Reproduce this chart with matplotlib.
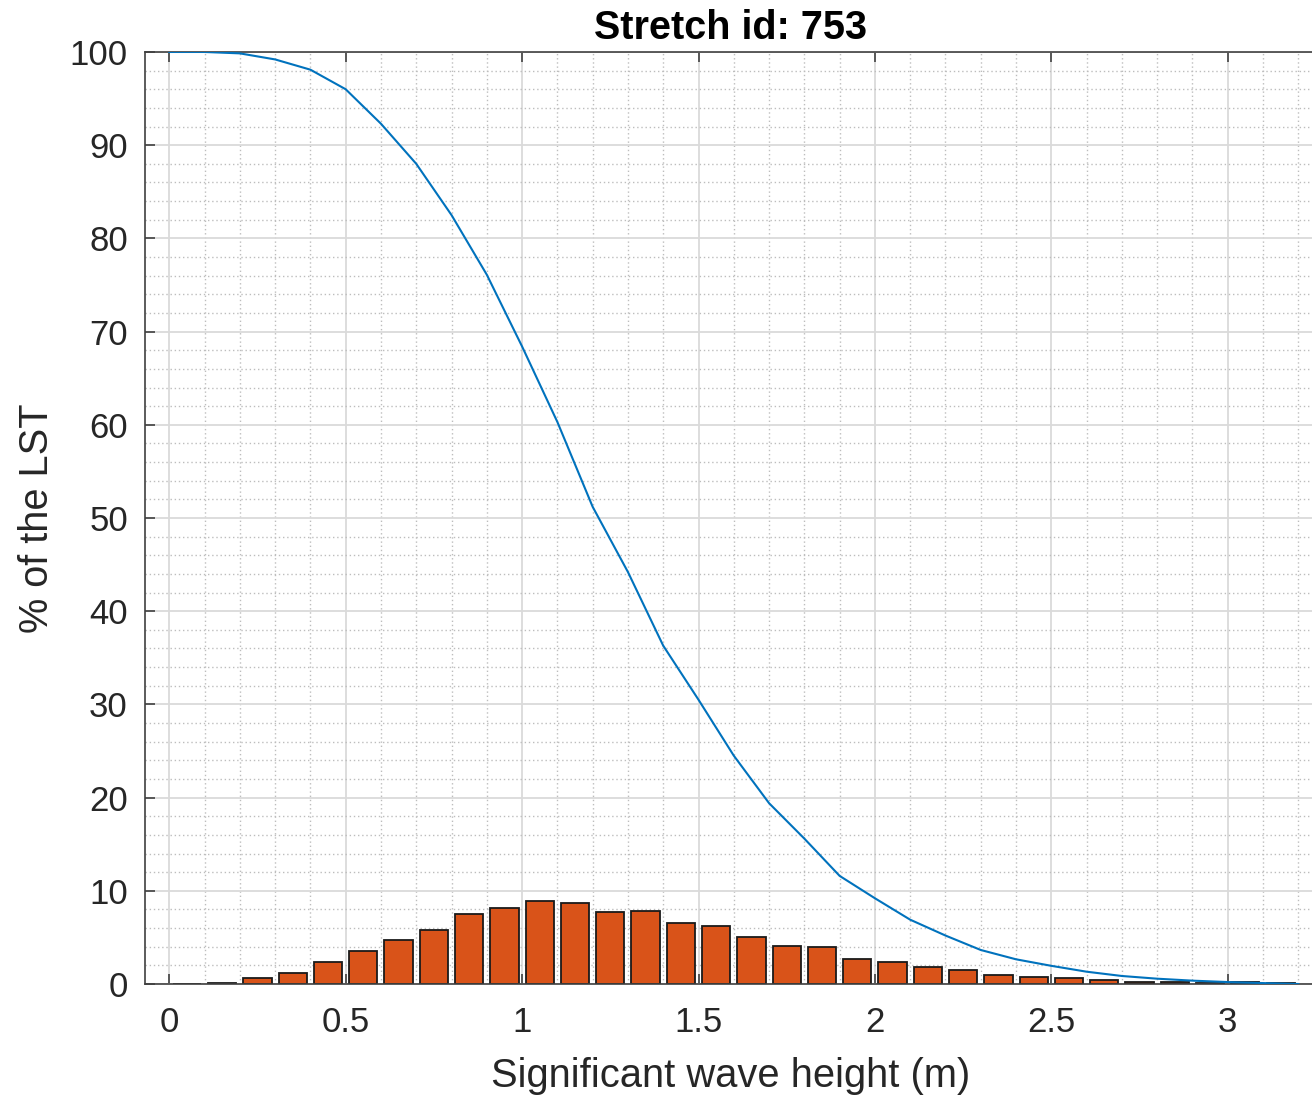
import matplotlib
matplotlib.use("Agg")
import matplotlib.pyplot as plt
from matplotlib.ticker import MultipleLocator

plt.rcParams['font.family'] = ['Liberation Sans', 'DejaVu Sans']

# Exceedance curve (% of LST with Hs above value)
hs_edges = [0.0, 0.1, 0.2, 0.3, 0.4, 0.5, 0.6, 0.7, 0.8, 0.9, 1.0, 1.1, 1.2, 1.3,
            1.4, 1.5, 1.6, 1.7, 1.8, 1.9, 2.0, 2.1, 2.2, 2.3, 2.4, 2.5, 2.6, 2.7,
            2.8, 2.9, 3.0, 3.1, 3.2]
exceed_pct = [100.0, 100.0, 99.85, 99.2, 98.1, 96.0, 92.3, 88.0, 82.5, 76.1, 68.4,
              60.3, 51.2, 44.2, 36.3, 30.5, 24.5, 19.4, 15.6, 11.6, 9.2, 6.9, 5.2,
              3.65, 2.65, 1.95, 1.32, 0.86, 0.57, 0.36, 0.21, 0.1, 0.0]

# Histogram (% of LST per 0.1 m bin)
hs_centers = [0.05, 0.15, 0.25, 0.35, 0.45, 0.55, 0.65, 0.75, 0.85, 0.95, 1.05,
              1.15, 1.25, 1.35, 1.45, 1.55, 1.65, 1.75, 1.85, 1.95, 2.05, 2.15,
              2.25, 2.35, 2.45, 2.55, 2.65, 2.75, 2.85, 2.95, 3.05, 3.15]
bin_pct = [0.03, 0.15, 0.6, 1.15, 2.36, 3.58, 4.72, 5.76, 7.51, 8.19, 8.9,
           8.72, 7.69, 7.83, 6.58, 6.26, 5.04, 4.11, 3.97, 2.65, 2.4, 1.86,
           1.47, 0.97, 0.72, 0.68, 0.43, 0.21, 0.21, 0.1, 0.18, 0.07]

title = "Stretch id: 753"
xlabel = "Significant wave height (m)"
ylabel = "% of the LST"

fig = plt.figure(figsize=(13.12, 11.0), dpi=100)
ax = fig.add_axes([0.1102, 0.10545, 0.8928, 0.8473])

ax.set_axisbelow(True)
ax.grid(which='major', color='#dadada', linewidth=1.3, linestyle='-')
ax.grid(which='minor', color='#bdbdbd', linewidth=1.0, linestyle=(0, (1, 2)))

ax.bar(hs_centers, bin_pct, width=0.08, color='#D95319', edgecolor='#1a1a1a',
       linewidth=1.3, zorder=2)
ax.plot(hs_edges, exceed_pct, color='#0072BD', linewidth=1.5, zorder=3)

ax.set_xlim(-0.07, 3.25)
ax.set_ylim(0, 100)
ax.xaxis.set_major_locator(MultipleLocator(0.5))
ax.xaxis.set_minor_locator(MultipleLocator(0.1))
ax.yaxis.set_major_locator(MultipleLocator(10))
ax.yaxis.set_minor_locator(MultipleLocator(2))
ax.set_xticks([0, 0.5, 1, 1.5, 2, 2.5, 3])
ax.set_xticklabels(['0', '0.5', '1', '1.5', '2', '2.5', '3'])

tc = '#262626'
ax.tick_params(which='major', direction='in', length=7, width=1.2, color='#404040',
               labelsize=25, labelcolor=tc, top=True, right=False)
ax.tick_params(axis='x', which='major', pad=16)
ax.tick_params(axis='y', which='major', pad=12)
ax.tick_params(which='minor', length=0, top=True, right=False)

for s in ax.spines.values():
    s.set_color('#404040')
    s.set_linewidth(1.2)
ax.spines['right'].set_visible(False)

ax.set_title(title, fontsize=28.5, fontweight='bold', color='black', pad=9)
ax.set_xlabel(xlabel, fontsize=28.7, color=tc, labelpad=13)
ax.set_ylabel(ylabel, fontsize=28.6, color=tc, labelpad=10)

fig.savefig("out.png", dpi=100)
